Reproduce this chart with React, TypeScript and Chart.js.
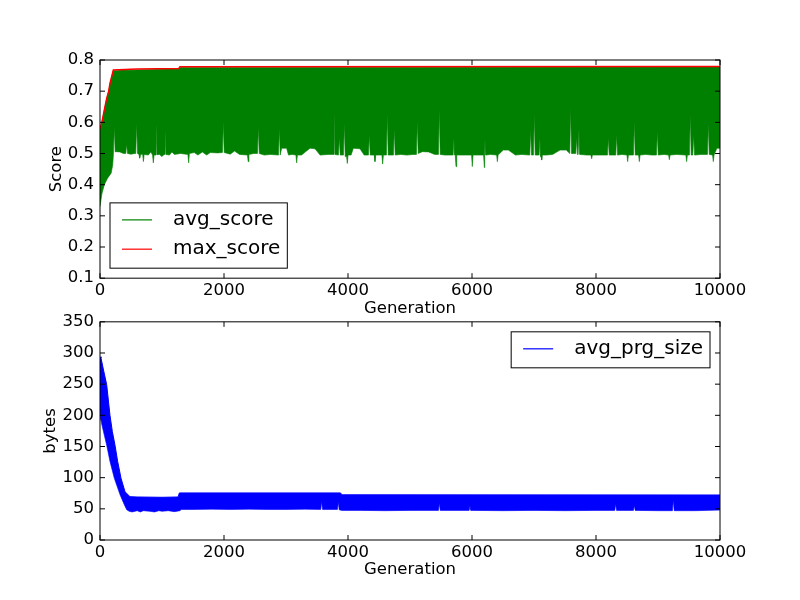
import React, { useEffect, useRef } from 'react';
import { Chart, registerables } from 'chart.js';
Chart.register(...registerables);

// --- top panel: score per generation, [generation, value] ---
// avg_score swings between a low and a high value every generation, so it is kept as its envelope
const maxScore = [
  [0, 0.58], [30, 0.6], [70, 0.64], [108, 0.677], [140, 0.7], [161, 0.725], [215, 0.768],
  [600, 0.771], [1270, 0.773], [1290, 0.778], [10000, 0.779],
];

const avgHigh = [
  [0, 0.575], [30, 0.597], [70, 0.637], [108, 0.674], [140, 0.697], [161, 0.722], [215, 0.765],
  [600, 0.768], [1270, 0.77], [1290, 0.775], [10000, 0.776],
];

const avgLow = [
  [0, 0.33], [30, 0.37], [70, 0.4], [120, 0.42], [180, 0.437], [205, 0.463], [217, 0.5], [231, 0.586], [245, 0.505],
  [260, 0.506], [320, 0.505], [380, 0.5], [416, 0.5], [430, 0.53], [444, 0.5], [500, 0.498], [560, 0.5], [577, 0.5],
  [591, 0.597], [605, 0.5], [630, 0.497], [640, 0.485], [655, 0.497], [688, 0.498], [700, 0.474], [712, 0.497],
  [780, 0.495], [820, 0.505], [848, 0.495], [860, 0.47], [872, 0.495], [889, 0.495], [903, 0.597], [917, 0.496],
  [960, 0.497], [1000, 0.49], [1034, 0.497], [1048, 0.575], [1062, 0.497], [1120, 0.495], [1160, 0.505], [1200, 0.497],
  [1300, 0.5], [1418, 0.497], [1430, 0.47], [1442, 0.5], [1520, 0.503], [1580, 0.495], [1650, 0.505], [1720, 0.495],
  [1780, 0.503], [1900, 0.502], [1975, 0.503], [1989, 0.602], [2003, 0.503], [2100, 0.498], [2170, 0.508], [2250, 0.497],
  [2378, 0.495], [2390, 0.474], [2402, 0.497], [2480, 0.5], [2540, 0.5], [2554, 0.586], [2568, 0.5], [2650, 0.495],
  [2750, 0.497], [2879, 0.495], [2893, 0.581], [2907, 0.495], [2930, 0.517], [3010, 0.517], [3040, 0.495], [3100, 0.497],
  [3160, 0.495], [3172, 0.47], [3184, 0.495], [3250, 0.495], [3387, 0.517], [3468, 0.515], [3550, 0.495], [3680, 0.497],
  [3760, 0.497], [3774, 0.629], [3788, 0.497], [3846, 0.495], [3860, 0.55], [3874, 0.495], [3927, 0.495], [3941, 0.597],
  [3955, 0.49], [3977, 0.49], [3989, 0.468], [4001, 0.495], [4050, 0.495], [4086, 0.517], [4194, 0.515], [4260, 0.495],
  [4330, 0.495], [4344, 0.56], [4358, 0.495], [4423, 0.495], [4435, 0.474], [4447, 0.495], [4500, 0.495], [4547, 0.495],
  [4559, 0.466], [4571, 0.495], [4620, 0.495], [4634, 0.627], [4648, 0.495], [4733, 0.495], [4747, 0.58], [4761, 0.495],
  [4850, 0.497], [4950, 0.495], [5050, 0.497], [5104, 0.497], [5118, 0.604], [5132, 0.5], [5200, 0.506], [5300, 0.505],
  [5400, 0.497], [5459, 0.497], [5473, 0.642], [5487, 0.497], [5560, 0.495], [5650, 0.495], [5696, 0.495], [5710, 0.55],
  [5722, 0.495], [5730, 0.495], [5742, 0.458], [5754, 0.495], [5800, 0.495], [5900, 0.495], [5993, 0.495], [6005, 0.458],
  [6017, 0.495], [6100, 0.495], [6187, 0.495], [6199, 0.455], [6205, 0.495], [6210, 0.55], [6224, 0.495], [6300, 0.497],
  [6397, 0.495], [6409, 0.474], [6421, 0.495], [6505, 0.511], [6586, 0.511], [6700, 0.495], [6800, 0.497], [6932, 0.495],
  [6946, 0.575], [6960, 0.495], [6991, 0.495], [7005, 0.624], [7019, 0.495], [7083, 0.495], [7097, 0.55], [7109, 0.49],
  [7114, 0.49], [7124, 0.479], [7136, 0.495], [7200, 0.495], [7300, 0.497], [7420, 0.511], [7520, 0.511], [7577, 0.5],
  [7591, 0.645], [7605, 0.5], [7674, 0.5], [7688, 0.55], [7700, 0.497], [7712, 0.497], [7726, 0.578], [7740, 0.497],
  [7850, 0.495], [7918, 0.495], [7930, 0.483], [7942, 0.495], [8050, 0.495], [8185, 0.495], [8199, 0.55], [8213, 0.495],
  [8319, 0.495], [8333, 0.56], [8347, 0.495], [8420, 0.497], [8499, 0.495], [8511, 0.474], [8523, 0.495], [8604, 0.495],
  [8618, 0.602], [8632, 0.495], [8687, 0.495], [8699, 0.474], [8711, 0.495], [8800, 0.497], [8900, 0.495], [8975, 0.495],
  [8989, 0.57], [9003, 0.495], [9100, 0.497], [9171, 0.495], [9183, 0.48], [9195, 0.495], [9300, 0.497], [9450, 0.495],
  [9462, 0.474], [9474, 0.495], [9507, 0.495], [9521, 0.624], [9535, 0.495], [9561, 0.495], [9575, 0.56], [9589, 0.495],
  [9700, 0.497], [9798, 0.497], [9812, 0.597], [9826, 0.497], [9880, 0.495], [9892, 0.474], [9904, 0.495], [9950, 0.517],
  [10000, 0.517],
];

// --- bottom panel: average program size in bytes, also an envelope ---
const prgHigh = [
  [0, 294], [16, 292], [60, 271], [108, 249], [161, 200], [199, 174], [242, 152], [285, 126], [339, 99],
  [403, 77.5], [484, 69.5], [600, 69], [1000, 68.5], [1260, 69], [1280, 75.5], [3880, 75.5], [3900, 72.5], [10000, 72.2],
];

const prgLow = [
  [0, 205], [16, 192], [32, 184], [108, 152], [161, 126], [231, 99], [323, 72.7], [392, 56.7], [430, 48.7], [470, 46],
  [520, 45], [600, 47], [650, 45], [700, 47], [800, 46], [880, 45], [950, 47], [1000, 46], [1100, 47], [1200, 45.5],
  [1290, 47], [1310, 49], [1500, 49], [1800, 49.5], [2100, 49], [2400, 49.5], [2700, 49], [3000, 49], [3300, 49.5],
  [3561, 49], [3575, 61.5], [3589, 49], [3830, 49], [3844, 61], [3858, 48.5], [3900, 47.5], [4200, 47.5], [4600, 47],
  [5000, 47.5], [5459, 47.5], [5473, 59], [5487, 47.5], [5954, 47.5], [5968, 55], [5982, 47.5], [6500, 47], [7000, 47.5],
  [7500, 47], [8000, 47.5], [8303, 47.5], [8317, 57.7], [8331, 47.5], [8604, 47.5], [8618, 55], [8632, 47.5], [9000, 47],
  [9233, 47], [9247, 64], [9261, 47], [9600, 47], [10000, 48],
];

const genTicks = [0, 2000, 4000, 6000, 8000, 10000];
const scoreTicks = [0.1, 0.2, 0.3, 0.4, 0.5, 0.6, 0.7, 0.8];
const bytesTicks = [0, 50, 100, 150, 200, 250, 300, 350];

const FONT = '"DejaVu Sans", sans-serif';
const FS = 16.5;

const pts = (rows: number[][]) => rows.map(([x, y]) => ({ x, y }));

// matplotlib-like frame with inward ticks on all four sides, plus a boxed legend
const frameAndLegend = {
  id: 'frameAndLegend',
  afterDraw(chart: any, _args: any, opts: any) {
    const { ctx, chartArea: a } = chart;
    const xs = chart.scales.x;
    const ys = chart.scales.y;
    ctx.save();
    ctx.strokeStyle = '#000';
    ctx.lineWidth = 1;
    const t = 5;
    ctx.beginPath();
    xs.ticks.forEach((tk: any) => {
      const p = xs.getPixelForValue(tk.value);
      ctx.moveTo(p, a.bottom);
      ctx.lineTo(p, a.bottom - t);
      ctx.moveTo(p, a.top);
      ctx.lineTo(p, a.top + t);
    });
    ys.ticks.forEach((tk: any) => {
      const p = ys.getPixelForValue(tk.value);
      ctx.moveTo(a.left, p);
      ctx.lineTo(a.left + t, p);
      ctx.moveTo(a.right, p);
      ctx.lineTo(a.right - t, p);
    });
    ctx.stroke();
    ctx.strokeRect(a.left, a.top, a.right - a.left, a.bottom - a.top);

    const labels: string[] = opts.labels;
    ctx.font = '20px ' + FONT;
    const textW = Math.max(...labels.map((l) => ctx.measureText(l).width));
    const rowH = 29.3;
    const w = 12 + 30 + 21 + textW + 7;
    const h = 17 + rowH * (labels.length - 1) + 19;
    const bx = opts.corner === 'lowerLeft' ? a.left + 10 : a.right - 10 - w;
    const by = opts.corner === 'lowerLeft' ? a.bottom - 10 - h : a.top + 10;
    ctx.fillStyle = '#fff';
    ctx.fillRect(bx, by, w, h);
    ctx.strokeStyle = '#000';
    ctx.strokeRect(bx, by, w, h);
    labels.forEach((l, i) => {
      const ds = chart.data.datasets.find((d: any) => d.label === l);
      const y = by + 17 + i * rowH;
      ctx.strokeStyle = ds.borderColor;
      ctx.lineWidth = 1.2;
      ctx.beginPath();
      ctx.moveTo(bx + 12, y);
      ctx.lineTo(bx + 42, y);
      ctx.stroke();
      ctx.fillStyle = '#000';
      ctx.textBaseline = 'middle';
      ctx.textAlign = 'left';
      ctx.fillText(l, bx + 63, y);
    });
    ctx.restore();
  },
};

const makeScales = (yTicks: number[], yTitle: string, yWidth: number, yFmt: (v: number) => string) => ({
  x: {
    type: 'linear' as const,
    min: 0,
    max: 10000,
    grid: { display: false, drawTicks: false },
    border: { display: false },
    afterBuildTicks: (s: any) => { s.ticks = genTicks.map((value) => ({ value })); },
    afterFit: (s: any) => { s.height = 40; },
    ticks: {
      color: '#000', padding: 3, autoSkip: false, maxRotation: 0, font: { size: FS },
      callback: (v: any) => String(v),
    },
    title: { display: true, text: 'Generation', color: '#000', padding: 0, font: { size: FS } },
  },
  y: {
    type: 'linear' as const,
    min: yTicks[0],
    max: yTicks[yTicks.length - 1],
    grid: { display: false, drawTicks: false },
    border: { display: false },
    afterBuildTicks: (s: any) => { s.ticks = yTicks.map((value) => ({ value })); },
    afterFit: (s: any) => { s.width = yWidth; },
    ticks: { color: '#000', padding: 6, autoSkip: false, font: { size: FS }, callback: (v: any) => yFmt(Number(v)) },
    title: { display: true, text: yTitle, color: '#000', padding: 0, font: { size: FS } },
  },
});

const lineDs = (label: string, data: any[], color: string, extra: any = {}) => ({
  label,
  data,
  borderColor: color,
  backgroundColor: color,
  borderWidth: 1,
  pointRadius: 0,
  tension: 0,
  fill: false,
  ...extra,
});

const App: React.FC = () => {
  const topRef = useRef<HTMLCanvasElement>(null);
  const bottomRef = useRef<HTMLCanvasElement>(null);

  useEffect(() => {
    Chart.defaults.font.family = FONT;
    Chart.defaults.color = '#000';
    const charts: Chart[] = [];

    if (topRef.current) {
      charts.push(new Chart(topRef.current, {
        type: 'line',
        data: {
          datasets: [
            lineDs('max_score', pts(maxScore), '#ff0000', { borderWidth: 1.5 }),
            lineDs('avg_score', pts(avgHigh), '#008000'),
            lineDs('', pts(avgLow), '#008000', { fill: '-1', borderWidth: 0.6 }),
          ],
        },
        options: {
          responsive: false,
          animation: false,
          layout: { padding: { left: 47, right: 80, top: 60, bottom: 281.82 } },
          plugins: {
            legend: { display: false },
            tooltip: { enabled: false },
            frameAndLegend: { corner: 'lowerLeft', labels: ['avg_score', 'max_score'] },
          } as any,
          scales: makeScales(scoreTicks, 'Score', 53, (v) => v.toFixed(1)),
        },
        plugins: [frameAndLegend],
      }));
    }

    if (bottomRef.current) {
      charts.push(new Chart(bottomRef.current, {
        type: 'line',
        data: {
          datasets: [
            lineDs('avg_prg_size', pts(prgHigh), '#0000ff'),
            lineDs('', pts(prgLow), '#0000ff', { fill: '-1', borderWidth: 0.6 }),
          ],
        },
        options: {
          responsive: false,
          animation: false,
          layout: { padding: { left: 41, right: 80, top: 321.82, bottom: 20 } },
          plugins: {
            legend: { display: false },
            tooltip: { enabled: false },
            frameAndLegend: { corner: 'upperRight', labels: ['avg_prg_size'] },
          } as any,
          scales: makeScales(bytesTicks, 'bytes', 59, (v) => String(v)),
        },
        plugins: [frameAndLegend],
      }));
    }

    return () => charts.forEach((c) => c.destroy());
  }, []);

  const cv: React.CSSProperties = { position: 'absolute', left: 0, top: 0, width: 800, height: 600 };
  return (
    <div style={{ position: 'fixed', left: 0, top: 0, width: 800, height: 600, background: '#fff' }}>
      <canvas ref={topRef} width={800} height={600} style={cv} />
      <canvas ref={bottomRef} width={800} height={600} style={cv} />
    </div>
  );
};

export default App;
